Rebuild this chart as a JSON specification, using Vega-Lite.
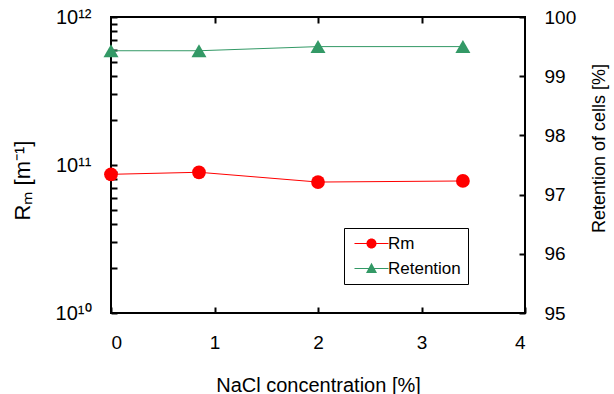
{
  "$schema": "https://vega.github.io/schema/vega-lite/v6.json",
  "width": 414,
  "height": 296,
  "autosize": {"type": "none"},
  "padding": {"left": 111, "top": 17, "right": 89, "bottom": 81},
  "config": {
    "font": "Liberation Sans",
    "view": {"stroke": "black", "strokeWidth": 2},
    "axis": {
      "domain": false,
      "grid": false,
      "tickColor": "black",
      "tickWidth": 2,
      "tickSize": -6,
      "labelColor": "black",
      "titleColor": "black",
      "labelFont": "Liberation Sans",
      "titleFont": "Liberation Sans",
      "labelFontSize": 19,
      "titleFontSize": 19,
      "titleFontWeight": "normal"
    }
  },
  "data": {
    "values": [
      {"series": "Rm", "x": 0, "v": 8.65e10},
      {"series": "Rm", "x": 0.85, "v": 8.93e10},
      {"series": "Rm", "x": 2, "v": 7.67e10},
      {"series": "Rm", "x": 3.4, "v": 7.8e10},
      {"series": "Retention", "x": 0, "v": 99.43},
      {"series": "Retention", "x": 0.85, "v": 99.43},
      {"series": "Retention", "x": 2, "v": 99.5},
      {"series": "Retention", "x": 3.4, "v": 99.5}
    ]
  },
  "layer": [
    {
      "transform": [{"filter": "datum.series === 'Rm'"}],
      "encoding": {
        "x": {
          "field": "x", "type": "quantitative",
          "scale": {"domain": [0, 4], "nice": false},
          "axis": {"values": [0, 1, 2, 3, 4], "title": "NaCl concentration [%]", "titleFontSize": 20, "labelPadding": 26, "titlePadding": 23}
        },
        "y": {
          "field": "v", "type": "quantitative",
          "scale": {"type": "log", "domain": [1e10, 1e12], "nice": false},
          "axis": {
            "values": [1e10, 2e10, 3e10, 4e10, 5e10, 6e10, 7e10, 8e10, 9e10, 1e11, 2e11, 3e11, 4e11, 5e11, 6e11, 7e11, 8e11, 9e11, 1e12],
            "labelExpr": "datum.value == 1e10 ? '10¹⁰' : datum.value == 1e11 ? '10¹¹' : datum.value == 1e12 ? '10¹²' : ''",
            "labelFontSize": 20,
            "labelPadding": 26,
            "title": "Rₘ [m⁻¹]",
            "titleFontSize": 22,
            "titleY": 163,
            "titlePadding": 21
          }
        }
      },
      "layer": [
        {"mark": {"type": "line", "color": "#ff0000", "strokeWidth": 1}},
        {
          "mark": {"type": "point", "shape": "circle", "filled": true, "size": 190, "opacity": 1},
          "encoding": {
            "color": {
              "field": "series", "type": "nominal",
              "scale": {"domain": ["Rm", "Retention"], "range": ["#ff0000", "#339966"]}
            }
          }
        }
      ]
    },
    {
      "transform": [{"filter": "datum.series === 'Retention'"}],
      "encoding": {
        "x": {"field": "x", "type": "quantitative", "scale": {"domain": [0, 4], "nice": false}, "axis": null},
        "y": {
          "field": "v", "type": "quantitative",
          "scale": {"domain": [95, 100], "nice": false, "zero": false},
          "axis": {
            "orient": "right",
            "values": [95, 96, 97, 98, 99, 100],
            "labelPadding": 25,
            "title": "Retention of cells [%]",
            "titleFontSize": 18,
            "titleAngle": 270,
            "titleBaseline": "top",
            "titleY": 131,
            "titlePadding": 15
          }
        }
      },
      "layer": [
        {"mark": {"type": "line", "color": "#339966", "strokeWidth": 1}},
        {
          "mark": {"type": "point", "shape": "triangle-up", "filled": true, "size": 225, "opacity": 1},
          "encoding": {
            "color": {"field": "series", "type": "nominal"}
          }
        }
      ]
    },
    {
      "mark": {"type": "point", "opacity": 0},
      "encoding": {
        "x": {
          "field": "x", "type": "quantitative",
          "scale": {"domain": [0, 4], "nice": false},
          "axis": {"orient": "top", "values": [1, 2, 3], "labels": false, "title": null}
        }
      }
    },
    {
      "mark": {"type": "point", "filled": true, "opacity": 0, "size": 100},
      "encoding": {
        "x": {"field": "x", "type": "quantitative", "scale": {"domain": [0, 4], "nice": false}, "axis": null},
        "color": {
          "field": "series", "type": "nominal",
          "legend": {
            "orient": "none",
            "legendX": 233,
            "legendY": 211,
            "title": null,
            "strokeColor": "black",
            "fillColor": "white",
            "padding": 7,
            "labelFontSize": 17,
            "labelColor": "black",
            "labelOffset": 20,
            "rowPadding": 7,
            "symbolSize": 100,
            "symbolOpacity": 1
          }
        },
        "shape": {
          "field": "series", "type": "nominal",
          "scale": {
            "domain": ["Rm", "Retention"],
            "range": ["M-1,-0.1H5.8V0.1H-1Z M3.4,0A1,1 0 1,1 1.4,0A1,1 0 1,1 3.4,0Z", "M-1,-0.1H5.8V0.1H-1Z M2.4,-1.15L3.5,0.9L1.3,0.9Z"]
          },
          "legend": {
            "orient": "none",
            "legendX": 233,
            "legendY": 211,
            "title": null,
            "strokeColor": "black",
            "fillColor": "white",
            "padding": 7,
            "labelFontSize": 17,
            "labelColor": "black",
            "labelOffset": 20,
            "rowPadding": 7,
            "symbolSize": 100,
            "symbolOpacity": 1
          }
        }
      }
    }
  ],
  "resolve": {"scale": {"x": "independent", "y": "independent"}}
}
